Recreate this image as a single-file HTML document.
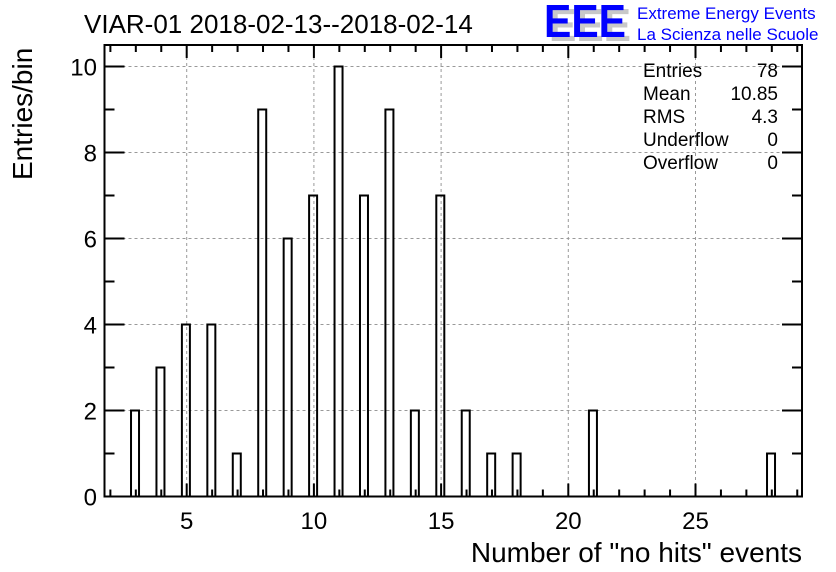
<!DOCTYPE html>
<html><head><meta charset="utf-8"><style>
body{margin:0;background:#fff;}
svg{display:block;font-family:"Liberation Sans",sans-serif;}
</style></head><body>
<svg width="836" height="572" viewBox="0 0 836 572">
<rect x="0" y="0" width="836" height="572" fill="#fff"/>
<text x="84" y="33" font-size="26">VIAR-01 2018-02-13--2018-02-14</text>
<g>
<text x="549" y="41" font-size="46" font-weight="bold" fill="#c8c8c8" textLength="82" lengthAdjust="spacingAndGlyphs">EEE</text>
<text x="544" y="37" font-size="46" font-weight="bold" fill="#0000ff" textLength="82" lengthAdjust="spacingAndGlyphs">EEE</text>
<text x="637" y="19" font-size="17" fill="#0000ff">Extreme Energy Events</text>
<text x="637" y="40" font-size="17" fill="#0000ff">La Scienza nelle Scuole</text>
</g>
<g id="grid"></g>
<g id="bars"></g>
<g id="axes"></g>
<rect x="104.5" y="45" width="697.5" height="451.5" fill="none" stroke="#000" stroke-width="2"/>
<g font-size="19">
<text x="643" y="77">Entries</text><text x="778" y="77" text-anchor="end">78</text>
<text x="643" y="100">Mean</text><text x="778" y="100" text-anchor="end">10.85</text>
<text x="643" y="123">RMS</text><text x="778" y="123" text-anchor="end">4.3</text>
<text x="643" y="146">Underflow</text><text x="778" y="146" text-anchor="end">0</text>
<text x="643" y="169">Overflow</text><text x="778" y="169" text-anchor="end">0</text>
</g>
<text transform="translate(32,180) rotate(-90)" font-size="28">Entries/bin</text>
<text x="802" y="562" font-size="28" text-anchor="end">Number of "no hits" events</text>
</svg>
<script>
const categories=[3,4,5,6,7,8,9,10,11,12,13,14,15,16,17,18,21,28];
const counts=[2,3,4,4,1,9,6,7,10,7,9,2,7,2,1,1,2,1];
const xTicks=[5,10,15,20,25];
const yTicks=[0,2,4,6,8,10];
const NS="http://www.w3.org/2000/svg";
const L=104.5,R=802,T=45,B=496.5;
const X=v=>186.7+(v-5)*25.44;
const Y=v=>B-v*43;
function mk(tag,at,parent){const e=document.createElementNS(NS,tag);for(const k in at)e.setAttribute(k,at[k]);parent.appendChild(e);return e;}
const grid=document.getElementById('grid'),bars=document.getElementById('bars'),axes=document.getElementById('axes');
xTicks.forEach(t=>{const l=mk('line',{x1:X(t),x2:X(t),y1:T,y2:B,stroke:'#999','stroke-dasharray':'3,3'},grid);});
yTicks.slice(1).forEach(t=>{const l=mk('line',{x1:L,x2:R,y1:Y(t),y2:Y(t),stroke:'#999','stroke-dasharray':'3,3'},grid);});
categories.forEach((c,i)=>{const r=mk('rect',{x:X(c)-4.8,y:Y(counts[i]),width:8,height:counts[i]*43,fill:'none',stroke:'#000','stroke-width':2},bars);});
for(let v=2;v<=29;v++){const x=X(v);if(x<L||x>R)continue;const len=(v%5===0)?13:7;
mk('line',{x1:x,x2:x,y1:B,y2:B-len,stroke:'#000','stroke-width':2},axes);
mk('line',{x1:x,x2:x,y1:T,y2:T+len,stroke:'#000','stroke-width':2},axes);}
for(let v=0;v<=10;v++){const y=Y(v);const len=(v%2===0)?20:10;
mk('line',{x1:L,x2:L+len,y1:y,y2:y,stroke:'#000','stroke-width':2},axes);
mk('line',{x1:R,x2:R-len,y1:y,y2:y,stroke:'#000','stroke-width':2},axes);}
xTicks.forEach(t=>{const tx=mk('text',{x:X(t),y:529,'font-size':24,'text-anchor':'middle'},axes);tx.textContent=t;});
yTicks.forEach(t=>{const tx=mk('text',{x:97,y:Y(t)+9,'font-size':24,'text-anchor':'end'},axes);tx.textContent=t;});
</script>
</body></html>
